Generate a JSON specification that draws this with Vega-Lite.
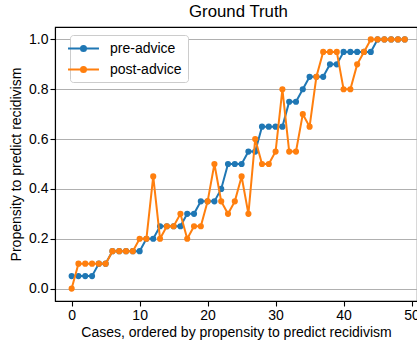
{
  "$schema": "https://vega.github.io/schema/vega-lite/v6.json",
  "autosize": {"type": "none"},
  "padding": {"left": 55, "top": 27, "right": 0, "bottom": 40},
  "width": 362,
  "height": 274,
  "title": {"text": "Ground Truth", "fontSize": 16.8, "font": "Liberation Sans", "fontWeight": "normal", "color": "black", "offset": 6, "dx": 2.5},
  "config": {
    "font": "Liberation Sans",
    "view": {"stroke": "black", "strokeWidth": 1.1},
    "axis": {"labelFontSize": 14, "titleFontSize": 14, "titleFontWeight": "normal", "labelColor": "black", "titleColor": "black", "domainColor": "black", "tickColor": "black", "tickSize": 5, "labelPadding": 2, "domainWidth": 1.1, "tickWidth": 1.1},
    "legend": {"labelFontSize": 14, "labelColor": "black"}
  },
  "data": {"values": [
    {"case": 0, "pre": 0.05, "post": 0},
    {"case": 1, "pre": 0.05, "post": 0.1},
    {"case": 2, "pre": 0.05, "post": 0.1},
    {"case": 3, "pre": 0.05, "post": 0.1},
    {"case": 4, "pre": 0.1, "post": 0.1},
    {"case": 5, "pre": 0.1, "post": 0.1},
    {"case": 6, "pre": 0.15, "post": 0.15},
    {"case": 7, "pre": 0.15, "post": 0.15},
    {"case": 8, "pre": 0.15, "post": 0.15},
    {"case": 9, "pre": 0.15, "post": 0.15},
    {"case": 10, "pre": 0.15, "post": 0.2},
    {"case": 11, "pre": 0.2, "post": 0.2},
    {"case": 12, "pre": 0.2, "post": 0.45},
    {"case": 13, "pre": 0.25, "post": 0.2},
    {"case": 14, "pre": 0.25, "post": 0.25},
    {"case": 15, "pre": 0.25, "post": 0.25},
    {"case": 16, "pre": 0.25, "post": 0.3},
    {"case": 17, "pre": 0.3, "post": 0.2},
    {"case": 18, "pre": 0.3, "post": 0.25},
    {"case": 19, "pre": 0.35, "post": 0.25},
    {"case": 20, "pre": 0.35, "post": 0.35},
    {"case": 21, "pre": 0.35, "post": 0.5},
    {"case": 22, "pre": 0.4, "post": 0.35},
    {"case": 23, "pre": 0.5, "post": 0.3},
    {"case": 24, "pre": 0.5, "post": 0.35},
    {"case": 25, "pre": 0.5, "post": 0.45},
    {"case": 26, "pre": 0.55, "post": 0.3},
    {"case": 27, "pre": 0.55, "post": 0.6},
    {"case": 28, "pre": 0.65, "post": 0.5},
    {"case": 29, "pre": 0.65, "post": 0.5},
    {"case": 30, "pre": 0.65, "post": 0.55},
    {"case": 31, "pre": 0.65, "post": 0.8},
    {"case": 32, "pre": 0.75, "post": 0.55},
    {"case": 33, "pre": 0.75, "post": 0.55},
    {"case": 34, "pre": 0.8, "post": 0.7},
    {"case": 35, "pre": 0.85, "post": 0.65},
    {"case": 36, "pre": 0.85, "post": 0.85},
    {"case": 37, "pre": 0.85, "post": 0.95},
    {"case": 38, "pre": 0.9, "post": 0.95},
    {"case": 39, "pre": 0.9, "post": 0.95},
    {"case": 40, "pre": 0.95, "post": 0.8},
    {"case": 41, "pre": 0.95, "post": 0.8},
    {"case": 42, "pre": 0.95, "post": 0.9},
    {"case": 43, "pre": 0.95, "post": 0.95},
    {"case": 44, "pre": 0.95, "post": 1},
    {"case": 45, "pre": 1, "post": 1},
    {"case": 46, "pre": 1, "post": 1},
    {"case": 47, "pre": 1, "post": 1},
    {"case": 48, "pre": 1, "post": 1},
    {"case": 49, "pre": 1, "post": 1}
  ]},
  "encoding": {
    "x": {"field": "case", "type": "quantitative", "scale": {"domain": [-2.45, 50.8], "nice": false, "zero": false},
      "axis": {"values": [0, 10, 20, 30, 40, 50], "grid": false, "title": "Cases, ordered by propensity to predict recidivism", "titlePadding": 3}},
    "color": {"scale": {"domain": ["pre-advice", "post-advice"], "range": ["#1f77b4", "#ff7f0e"]},
      "legend": {"title": null, "orient": "none", "legendX": 15, "legendY": 8, "padding": 5.5, "rowPadding": 6, "labelOffset": 18.5,
        "symbolType": "M-2.21,0L2.21,0M-0.36,0A0.36,0.36 0 1,0 0.36,0A0.36,0.36 0 1,0 -0.36,0",
        "symbolSize": 196, "symbolStrokeWidth": 2, "fillColor": "white", "strokeColor": "#cccccc", "cornerRadius": 3,
        "encode": {"symbols": {"update": {"fill": {"scale": "color", "field": "value"}, "stroke": {"scale": "color", "field": "value"}, "opacity": {"value": 1}}}}}}
  },
  "layer": [
    {"mark": {"type": "line", "strokeWidth": 2},
     "encoding": {"y": {"field": "pre", "type": "quantitative", "scale": {"domain": [-0.05, 1.05], "nice": false, "zero": false},
        "axis": {"values": [0, 0.2, 0.4, 0.6, 0.8, 1.0], "format": ".1f", "grid": true, "gridColor": "#b0b0b0", "gridWidth": 1, "title": "Propensity to predict recidivism", "titlePadding": 5}},
       "color": {"datum": "pre-advice"}}},
    {"mark": {"type": "point", "filled": true, "opacity": 1, "size": 38},
     "encoding": {"y": {"field": "pre", "type": "quantitative"}, "color": {"datum": "pre-advice"}}},
    {"mark": {"type": "line", "strokeWidth": 2},
     "encoding": {"y": {"field": "post", "type": "quantitative"}, "color": {"datum": "post-advice"}}},
    {"mark": {"type": "point", "filled": true, "opacity": 1, "size": 38},
     "encoding": {"y": {"field": "post", "type": "quantitative"}, "color": {"datum": "post-advice"}}}
  ]
}
